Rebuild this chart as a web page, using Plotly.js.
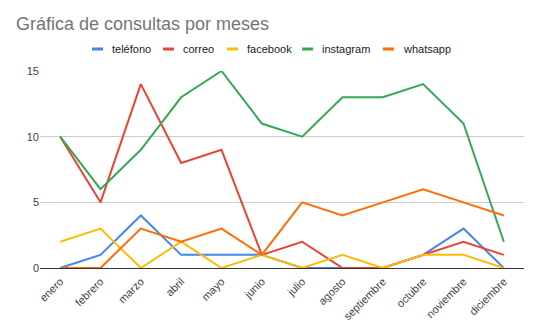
<!DOCTYPE html>
<html><head><meta charset="utf-8">
<script src="https://cdn.plot.ly/plotly-3.0.1.min.js"></script>
<style>html,body{margin:0;padding:0;background:#fff}#chart{width:538px;height:331px}</style>
</head><body><div id="chart"></div>
<script>
const months = ["enero","febrero","marzo","abril","mayo","junio","julio","agosto","septiembre","octubre","noviembre","diciembre"];
const telefono  = [0,1,4,1,1,1,0,0,0,1,3,0];
const correo    = [10,5,14,8,9,1,2,0,0,1,2,1];
const facebook  = [2,3,0,2,0,1,0,1,0,1,1,0];
const instagram = [10,6,9,13,15,11,10,13,13,14,11,2];
const whatsapp  = [0,0,3,2,3,1,5,4,5,6,5,4];
const yTicks = [0,5,10,15];
const seriesNames = ["teléfono","correo","facebook","instagram","whatsapp"];
const seriesValues = [telefono, correo, facebook, instagram, whatsapp];
const seriesColors = ["#4285F4","#EA4335","#FBBC04","#34A853","#FF6D01"];

// plot area geometry (pixels)
const W = 538, H = 331, mL = 40, mR = 14, mT = 71, mB = 63;
const pw = W - mL - mR, ph = H - mT - mB;
const px2x = p => (p - mL) / pw;
const py2y = p => (H - mB - p) / ph;

const data = seriesNames.map((n, i) => ({
  type:"scatter", mode:"lines", name:n, x:months, y:seriesValues[i],
  line:{color:seriesColors[i], width:2}, hoverinfo:"none", showlegend:false
}));

// custom legend (Google-charts style, short swatches)
const legendStarts = [92, 163, 227, 302, 383];
const legendY = 49;
const shapes = [], annotations = [];
seriesNames.forEach((n, i) => {
  const x0 = legendStarts[i];
  shapes.push({type:"line", xref:"paper", yref:"paper", x0:px2x(x0), x1:px2x(x0+11), y0:py2y(legendY), y1:py2y(legendY),
    line:{color:seriesColors[i], width:3}});
  annotations.push({xref:"paper", yref:"paper", x:px2x(x0+18), y:py2y(legendY), xanchor:"left", yanchor:"middle",
    text:n, showarrow:false, font:{size:11, color:"#222"}});
});

const layout = {
  width:W, height:H,
  margin:{l:mL, r:mR, t:mT, b:mB},
  paper_bgcolor:"#fff", plot_bgcolor:"#fff",
  font:{family:"Liberation Sans, Arial, sans-serif", size:11, color:"#444"},
  title:{text:"Gráfica de consultas por meses", x:16/W, xanchor:"left", xref:"container", y:1-24/H, yanchor:"middle", yref:"container",
    font:{size:18, color:"#757575", family:"Liberation Sans, Arial, sans-serif"}},
  showlegend:false,
  shapes:shapes, annotations:annotations,
  xaxis:{type:"category", range:[-0.5,11.5], tickangle:-45, showgrid:false, showline:false, zeroline:false,
    ticks:"", ticklabelstandoff:4, tickfont:{size:11, color:"#444"}},
  yaxis:{range:[0,15], tickvals:yTicks, ticktext:yTicks.map(String), showgrid:true, gridcolor:"#cccccc", gridwidth:1,
    zeroline:true, zerolinecolor:"#333", zerolinewidth:1, ticks:"", tickfont:{size:11, color:"#444"}, fixedrange:true}
};
Plotly.newPlot("chart", data, layout, {staticPlot:true, displayModeBar:false});
</script></body></html>
